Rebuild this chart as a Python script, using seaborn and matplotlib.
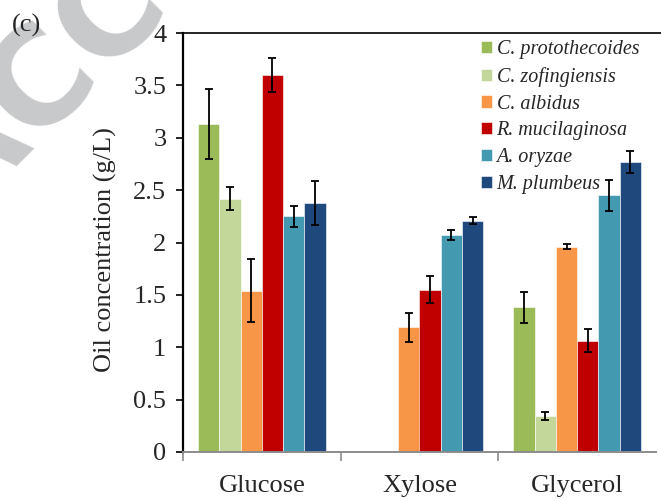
import numpy as np
import pandas as pd
import matplotlib
matplotlib.use("Agg")
import matplotlib.pyplot as plt
import seaborn as sns
from matplotlib.ticker import FormatStrFormatter

# ---- data ----
categories = ["Glucose", "Xylose", "Glycerol"]
strains = ["C. protothecoides", "C. zofingiensis", "C. albidus",
           "R. mucilaginosa", "A. oryzae", "M. plumbeus"]
colors = ["#9BBB59", "#C4D79B", "#F79646", "#C00000", "#4399B0", "#1F497D"]

protothecoides = [3.13, np.nan, 1.38]
zofingiensis = [2.42, np.nan, 0.34]
albidus = [1.54, 1.19, 1.96]
mucilaginosa = [3.60, 1.55, 1.06]
oryzae = [2.25, 2.07, 2.45]
plumbeus = [2.38, 2.21, 2.77]

protothecoides_err = [0.335, np.nan, 0.147]
zofingiensis_err = [0.11, np.nan, 0.038]
albidus_err = [0.30, 0.14, 0.026]
mucilaginosa_err = [0.165, 0.13, 0.11]
oryzae_err = [0.098, 0.045, 0.15]
plumbeus_err = [0.21, 0.038, 0.107]

values = [protothecoides, zofingiensis, albidus, mucilaginosa, oryzae, plumbeus]
errors = [protothecoides_err, zofingiensis_err, albidus_err,
          mucilaginosa_err, oryzae_err, plumbeus_err]

yticks = [0, 0.5, 1, 1.5, 2, 2.5, 3, 3.5, 4]

rows = []
for s, vals, errs in zip(strains, values, errors):
    for c, v, e in zip(categories, vals, errs):
        rows.append({"substrate": c, "strain": s, "value": v, "err": e})
df = pd.DataFrame(rows)
df_plot = df.dropna(subset=["value"])

# ---- style ----
sns.set_style("white")
plt.rcParams["font.family"] = ["Liberation Serif", "DejaVu Serif"]

W, H = 661, 501
fig = plt.figure(figsize=(W / 100, H / 100), dpi=100)
ax_left, ax_right, ax_top, ax_bottom = 183, 656, 33, 452
ax = fig.add_axes([ax_left / W, 1 - ax_bottom / H,
                   (ax_right - ax_left) / W, (ax_bottom - ax_top) / H])

# watermark (partly visible, as in the reference)
fig.text(-38 / W, 1 - 221 / H, "ACC", rotation=45,
         rotation_mode="anchor", ha="left", va="baseline",
         fontsize=96, fontweight="bold", family="DejaVu Sans",
         color="#C8C9CB", zorder=0)

group_width = 0.81
sns.barplot(data=df_plot, x="substrate", y="value", hue="strain",
            order=categories, hue_order=strains, palette=colors,
            width=group_width, errorbar=None, edgecolor="white",
            linewidth=0.4, saturation=1, ax=ax, zorder=2)

# error bars at dodged bar centres
n = len(strains)
bw = group_width / n
for j, s in enumerate(strains):
    sub = df_plot[df_plot["strain"] == s]
    xs = [categories.index(c) - group_width / 2 + (j + 0.5) * bw for c in sub["substrate"]]
    ax.errorbar(xs, sub["value"], yerr=sub["err"], fmt="none", ecolor="black",
                elinewidth=1.3, capsize=3.2, capthick=1.3, zorder=3)

ax.set_xlim(-0.5, 2.5)
ax.set_ylim(0, 4)
ax.set_yticks(yticks)
ax.yaxis.set_major_formatter(FormatStrFormatter("%g"))
ax.tick_params(axis="y", which="major", direction="out", length=5, width=1.2,
               color="black", pad=7, labelsize=19, left=True)

ax.set_xticks([-0.5, 0.5, 1.5], labels=["", "", ""])
ax.set_xticks([0, 1, 2], labels=categories, minor=True)
ax.tick_params(axis="x", which="major", direction="out", length=6.5, width=1.2,
               color="#8C8C8C", bottom=True)
ax.tick_params(axis="x", which="minor", length=0, pad=16.5, labelsize=19)

ax.set_xlabel("")
ax.set_ylabel("Oil concentration (g/L)", fontsize=19)
ax.yaxis.set_label_coords(-0.139, 0.482)

ax.spines["right"].set_visible(False)
ax.spines["top"].set_visible(False)
ax.spines["left"].set_color("black")
ax.spines["left"].set_linewidth(1.6)
ax.spines["bottom"].set_color("#8C8C8C")
ax.spines["bottom"].set_linewidth(1.4)
ax.plot([0, (W - ax_left) / (ax_right - ax_left)], [1, 1], transform=ax.transAxes,
        color="black", lw=1.2, clip_on=False, zorder=5)

# legend
handles, labels = ax.get_legend_handles_labels()
ax.legend(handles, labels, loc="upper left",
          bbox_to_anchor=(481 / W, 1 - 40 / H), bbox_transform=fig.transFigure,
          frameon=False, prop={"family": "Liberation Serif", "style": "italic", "size": 14.5},
          handlelength=0.55, handleheight=0.55, handletextpad=0.22,
          labelspacing=0.39, borderpad=0, borderaxespad=0)

fig.text(12 / W, 1 - 25 / H, "(c)", fontsize=19, ha="left", va="center")

fig.savefig("out.png", dpi=100)
